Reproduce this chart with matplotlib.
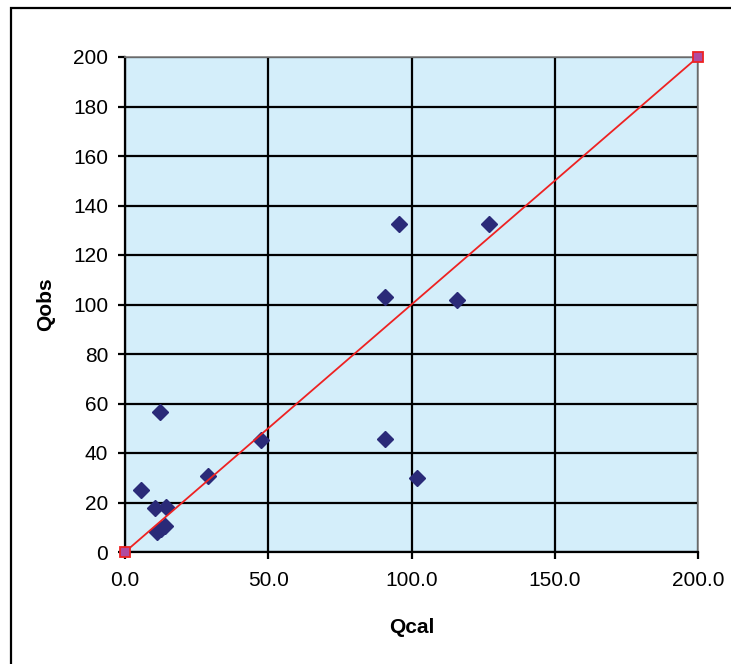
import matplotlib
matplotlib.use('Agg')
import matplotlib.pyplot as plt
import matplotlib.patches as patches

# Observed vs calculated discharge
q_cal = [5.5, 10.5, 14.3, 12.2, 11.0, 12.4, 14.0, 29.1, 47.4,
         90.8, 95.6, 90.8, 101.8, 115.8, 126.9]
q_obs = [25.2, 17.9, 18.2, 56.4, 7.9, 9.3, 10.7, 30.8, 45.3,
         102.9, 132.5, 45.5, 30.0, 101.9, 132.5]

# 1:1 reference line
line_x = [0, 200]
line_y = [0, 200]

x_ticks = [0, 50, 100, 150, 200]
y_ticks = list(range(0, 201, 20))

plt.rcParams['font.family'] = ['Liberation Sans', 'DejaVu Sans']

fig = plt.figure(figsize=(7.31, 6.64), dpi=100)
ax = fig.add_axes([125 / 731, 1 - 552 / 664, 573 / 731, 495 / 664])
ax.set_facecolor('#D4EEFA')

# chart frame (only top and left visible in the reference)
fig.patches.append(patches.Rectangle((10.5 / 731, -0.1), 1.2, 1 - 8 / 664 + 0.1,
                                     transform=fig.transFigure, fill=False,
                                     edgecolor='black', lw=1.6))

ax.set_xlim(0, 200)
ax.set_ylim(0, 200)
ax.set_xticks(x_ticks)
ax.set_yticks(y_ticks)
ax.set_xticklabels(['%.1f' % v for v in x_ticks])
ax.grid(True, color='black', lw=1.6, zorder=1)
ax.set_axisbelow(True)

for side in ['top', 'right']:
    ax.spines[side].set_color('#808080')
    ax.spines[side].set_linewidth(1.2)
for side in ['left', 'bottom']:
    ax.spines[side].set_color('black')
    ax.spines[side].set_linewidth(1.6)

ax.tick_params(direction='out', length=5, width=1.6, labelsize=15)
ax.tick_params(axis='x', pad=9)
ax.tick_params(axis='y', pad=7)

ax.plot(q_cal, q_obs, linestyle='none', marker='D', markersize=8.5,
        color='#2a2a78', zorder=3, clip_on=False)
ax.plot(line_x, line_y, color='#EE2222', lw=1.3, marker='s', markersize=6.5,
        markerfacecolor='#B04CA0', markeredgecolor='#EE2222', markeredgewidth=1.3,
        zorder=4, clip_on=False)

ax.set_xlabel('Qcal', fontsize=15, fontweight='bold', labelpad=20)
ax.set_ylabel('Qobs', fontsize=15, fontweight='bold', labelpad=13)

fig.savefig('out.png', dpi=100)
